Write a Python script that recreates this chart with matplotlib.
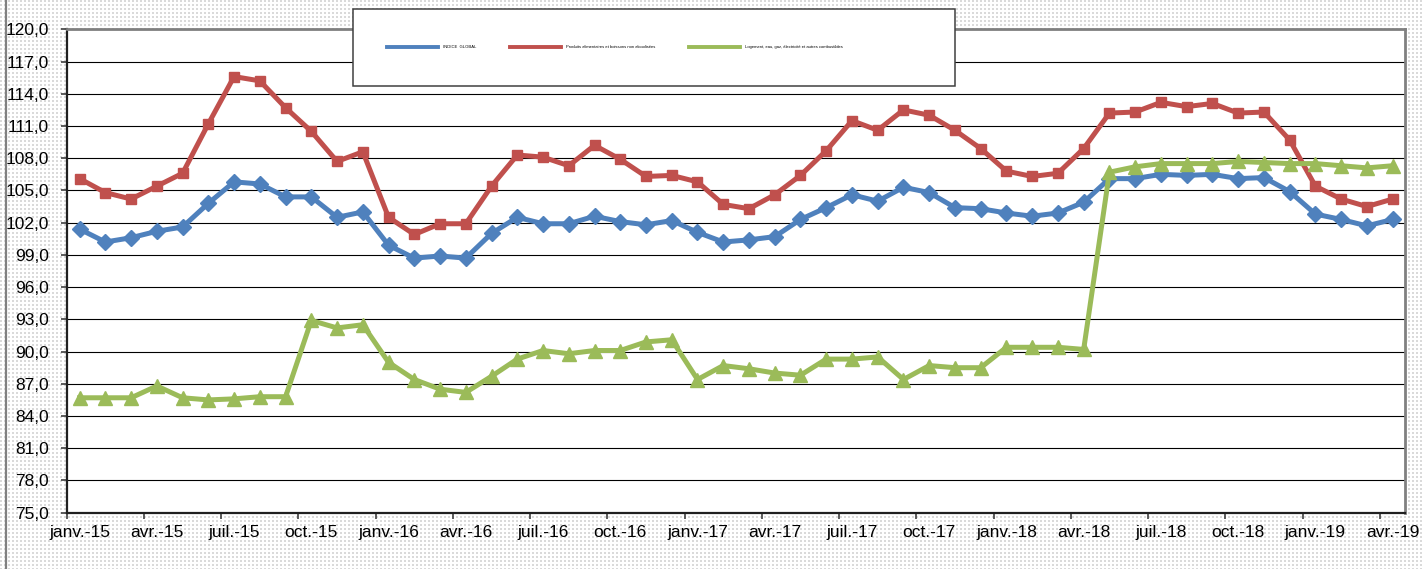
import matplotlib
matplotlib.use("Agg")
import numpy as np
import matplotlib.pyplot as plt
from matplotlib.patches import Rectangle
from matplotlib.ticker import FixedLocator, FuncFormatter

plt.rcParams["font.family"] = ["Liberation Sans", "DejaVu Sans"]

# --- données (indices mensuels, janv. 2015 -> avr. 2019) ---
mois_fr = ["janv.", "févr.", "mars", "avr.", "mai", "juin",
           "juil.", "août", "sept.", "oct.", "nov.", "déc."]
annees = ["15", "16", "17", "18", "19"]
categories = [f"{m}-{a}" for a in annees for m in mois_fr][:52]

indice_global = [
    101.4, 100.2, 100.6, 101.2, 101.6, 103.8, 105.8, 105.6, 104.4, 104.4, 102.5, 103.0,
    99.9, 98.7, 98.9, 98.7, 101.0, 102.5, 101.9, 101.9, 102.6, 102.1, 101.8, 102.2,
    101.1, 100.2, 100.4, 100.7, 102.3, 103.4, 104.6, 104.0, 105.3, 104.8, 103.4, 103.3,
    102.9, 102.6, 102.9, 103.9, 106.1, 106.1, 106.5, 106.4, 106.5, 106.1, 106.2, 104.9,
    102.8, 102.3, 101.7, 102.3,
]
alimentaires = [
    106.1, 104.8, 104.2, 105.4, 106.6, 111.2, 115.6, 115.2, 112.7, 110.5, 107.7, 108.6,
    102.5, 100.9, 101.9, 101.9, 105.4, 108.3, 108.1, 107.3, 109.2, 107.9, 106.3, 106.4,
    105.8, 103.7, 103.3, 104.6, 106.4, 108.7, 111.5, 110.6, 112.5, 112.0, 110.6, 108.9,
    106.8, 106.3, 106.6, 108.9, 112.2, 112.3, 113.2, 112.8, 113.1, 112.2, 112.3, 109.7,
    105.4, 104.2, 103.5, 104.2,
]
logement = [
    85.7, 85.7, 85.7, 86.8, 85.7, 85.5, 85.6, 85.8, 85.8, 92.9, 92.2, 92.5,
    89.0, 87.4, 86.5, 86.2, 87.7, 89.3, 90.1, 89.8, 90.1, 90.1, 90.9, 91.1,
    87.4, 88.7, 88.4, 88.0, 87.8, 89.3, 89.3, 89.5, 87.4, 88.7, 88.5, 88.5,
    90.4, 90.4, 90.4, 90.2, 106.7, 107.2, 107.5, 107.5, 107.5, 107.7, 107.6, 107.5,
    107.5, 107.3, 107.1, 107.3,
]

series = [
    ("INDICE  GLOBAL", indice_global, "#4F81BD", "D", 8.5),
    ("Produits alimentaires et boissons non alcoolisées", alimentaires, "#C0504D", "s", 7.5),
    ("Logement, eau, gaz, électricité et autres combustibles", logement, "#9BBB59", "^", 9.5),
]

W, H = 1423, 569
fig = plt.figure(figsize=(W / 100, H / 100), dpi=100)
fig.patch.set_facecolor("white")

# fond pointillé (motif Excel) autour de la zone de traçage
rr, cc = np.mgrid[0:H, 0:W]
motif = np.full((H, W, 3), 255, dtype=np.uint8)
motif[((rr % 4) < 2) & ((cc % 4) < 2)] = 218
fig.figimage(motif, 0, 0, zorder=-10)
fig.add_artist(plt.Line2D([0.0045, 0.0045], [0, 1], color="#808080", linewidth=1.6))

ax = fig.add_axes([0.0469, 0.0989, 0.9408, 0.8496])
ax.set_facecolor("white")

x = list(range(len(categories)))
lignes = []
for nom, vals, couleur, marqueur, taille in series:
    (l,) = ax.plot(x, vals, color=couleur, linewidth=3.6, marker=marqueur, markersize=taille,
                   markeredgecolor=couleur, markerfacecolor=couleur, label=nom, zorder=3)
    lignes.append(l)

# axe Y
ax.set_ylim(75, 120)
ax.yaxis.set_major_locator(FixedLocator([75 + 3 * i for i in range(16)]))
ax.yaxis.set_major_formatter(FuncFormatter(lambda v, p: f"{v:.1f}".replace(".", ",")))
ax.grid(axis="y", color="black", linewidth=0.8, zorder=1)
ax.set_axisbelow(True)

# axe X : graduations entre catégories, étiquettes tous les 3 mois
ax.set_xlim(-0.5, len(categories) - 0.5)
ax.xaxis.set_major_locator(FixedLocator([i - 0.5 for i in range(0, len(categories), 3)]))
ax.xaxis.set_minor_locator(FixedLocator(list(range(0, len(categories), 3))))
ax.set_xticklabels([], minor=False)
ax.set_xticklabels([categories[i] for i in range(0, len(categories), 3)], minor=True)
ax.tick_params(axis="x", which="major", direction="out", length=4, width=1.2, color="#404040")
ax.tick_params(axis="x", which="minor", length=0, pad=9, labelsize=12.5)
ax.tick_params(axis="y", direction="out", length=4, width=1.2, color="#404040",
               pad=9, labelsize=12.5)

for cote in ("left", "bottom"):
    ax.spines[cote].set_color("#202020")
    ax.spines[cote].set_linewidth(1.6)
for cote in ("top", "right"):
    ax.spines[cote].set_color("#808080")
    ax.spines[cote].set_linewidth(2.0)

# cadre de la légende, posé par-dessus le haut du graphique
fig.patches.append(Rectangle((353 / W, 1 - 86 / H), 602 / W, 77 / H, transform=fig.transFigure,
                             facecolor="white", edgecolor="#404040", linewidth=1.1, zorder=4))
leg = fig.legend(handles=lignes, loc="center left", bbox_to_anchor=(387 / W, 1 - 47 / H),
                 ncol=3, fontsize=3.0, handlelength=12.3, handletextpad=1.2,
                 columnspacing=8.0, borderpad=0, borderaxespad=0, frameon=False)
leg.set_zorder(5)
for h in leg.legend_handles:
    h.set_marker("")
    h.set_linewidth(2.8)

plt.savefig("out.png", dpi=100)
plt.close()
